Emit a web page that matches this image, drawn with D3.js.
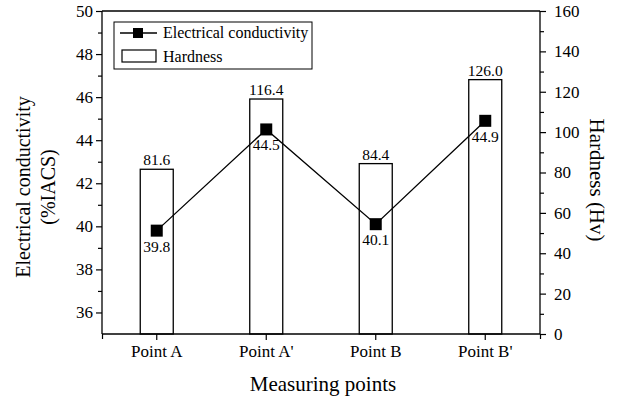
<!DOCTYPE html>
<html><head><meta charset="utf-8">
<script src="https://cdn.jsdelivr.net/npm/d3@7"></script>
<style>body{margin:0;background:#fff}svg{display:block}svg text{font-family:"Liberation Serif","Times New Roman",serif !important;fill:#000}</style>
</head><body>
<script>
const categories = ["Point A","Point A'","Point B","Point B'"];
const conductivity = [39.8,44.5,40.1,44.9];
const hardness = [81.6,116.4,84.4,126.0];
const leftTicks = [36,38,40,42,44,46,48,50];
const rightTicks = [0,20,40,60,80,100,120,140,160];

const W=621,H=398, L=102,R=540,T=11,B=334;
const svg=d3.select("body").append("svg").attr("width",W).attr("height",H);
const x=d3.scaleBand().domain(categories).range([L,R]).padding(0);
const yL=d3.scaleLinear().domain([35,50]).range([B,T]);
const yR=d3.scaleLinear().domain([0,160]).range([B,T]);
const bw=33;
const cx=(d,i)=>x(categories[i])+x.bandwidth()/2;

// bars
svg.selectAll("rect.bar").data(hardness).join("rect")
  .attr("x",(d,i)=>cx(d,i)-bw/2).attr("width",bw)
  .attr("y",d=>yR(d)).attr("height",d=>B-yR(d))
  .attr("fill","#fff").attr("stroke","#000").attr("stroke-width",1.3);
svg.selectAll("text.bl").data(hardness).join("text")
  .attr("x",cx).attr("y",d=>yR(d)-4)
  .attr("text-anchor","middle").style("font-size","15.5px").text(d=>d.toFixed(1));

// line
svg.append("path").datum(conductivity)
  .attr("d",d3.line().x(cx).y(d=>yL(d)))
  .attr("fill","none").attr("stroke","#000").attr("stroke-width",1.3);
svg.selectAll("rect.m").data(conductivity).join("rect")
  .attr("x",(d,i)=>cx(d,i)-6).attr("y",d=>yL(d)-6).attr("width",12).attr("height",12).attr("fill","#000");
svg.selectAll("text.ml").data(conductivity).join("text")
  .attr("x",cx).attr("y",d=>yL(d)+21)
  .attr("text-anchor","middle").style("font-size","15.5px").text(d=>d.toFixed(1));

// axes
const gL=svg.append("g").attr("transform",`translate(${L},0)`)
  .call(d3.axisLeft(yL).tickValues(leftTicks).tickSize(6).tickPadding(3).tickFormat(d3.format("d")));
svg.append("g").attr("transform",`translate(${L},0)`)
  .call(d3.axisLeft(yL).tickValues(d3.range(37,50,2)).tickSize(4).tickFormat(""))
  .select(".domain").remove();
const gR=svg.append("g").attr("transform",`translate(${R},0)`)
  .call(d3.axisRight(yR).tickValues(rightTicks).tickSize(6).tickPadding(8).tickFormat(d3.format("d")));
svg.append("g").attr("transform",`translate(${R},0)`)
  .call(d3.axisRight(yR).tickValues(d3.range(10,160,20)).tickSize(4).tickFormat(""))
  .select(".domain").remove();
const gB=svg.append("g").attr("transform",`translate(0,${B})`).call(d3.axisBottom(x).tickSize(6).tickPadding(5));
svg.append("g").attr("transform",`translate(0,${B})`)
  .call(d3.axisBottom(d3.scaleLinear().domain([0,1]).range([L,R])).tickValues([0,1]).tickSize(5).tickFormat(""))
  .select(".domain").remove();
svg.append("line").attr("x1",L).attr("x2",R).attr("y1",T).attr("y2",T).attr("stroke","#000").attr("stroke-width",1.3);
svg.selectAll(".tick line").attr("stroke-width",1.2);
svg.selectAll(".tick text").style("font-size","17px");
gB.selectAll(".tick text").style("font-size","17px");
[gL,gR,gB].forEach(g=>g.selectAll(".domain").remove());
gL.append("line").attr("y1",T).attr("y2",B).attr("stroke","#000").attr("stroke-width",1.3);
gR.append("line").attr("y1",T).attr("y2",B).attr("stroke","#000").attr("stroke-width",1.3);
gB.append("line").attr("x1",L).attr("x2",R).attr("stroke","#000").attr("stroke-width",1.3);

// titles
svg.append("text").attr("transform","translate(30,187) rotate(-90)").attr("text-anchor","middle").style("font-size","20px").text("Electrical conductivity");
svg.append("text").attr("transform","translate(55,187) rotate(-90)").attr("text-anchor","middle").style("font-size","20px").text("(%IACS)");
svg.append("text").attr("transform","translate(590,180) rotate(90)").attr("text-anchor","middle").style("font-size","21px").text("Hardness (Hv)");
svg.append("text").attr("x",323).attr("y",391).attr("text-anchor","middle").style("font-size","21px").text("Measuring points");

// legend
const lg=svg.append("g");
lg.append("rect").attr("x",114).attr("y",22).attr("width",198).attr("height",47).attr("fill","#fff").attr("stroke","#000").attr("stroke-width",1);
lg.append("line").attr("x1",120).attr("x2",157).attr("y1",33).attr("y2",33).attr("stroke","#000").attr("stroke-width",1.3);
lg.append("rect").attr("x",133).attr("y",28).attr("width",10).attr("height",10).attr("fill","#000");
lg.append("rect").attr("x",122).attr("y",50).attr("width",34).attr("height",12).attr("fill","#fff").attr("stroke","#000").attr("stroke-width",1.2);
lg.append("text").attr("x",163).attr("y",38).style("font-size","16px").text("Electrical conductivity");
lg.append("text").attr("x",163).attr("y",62).style("font-size","16px").text("Hardness");
</script>
</body></html>
